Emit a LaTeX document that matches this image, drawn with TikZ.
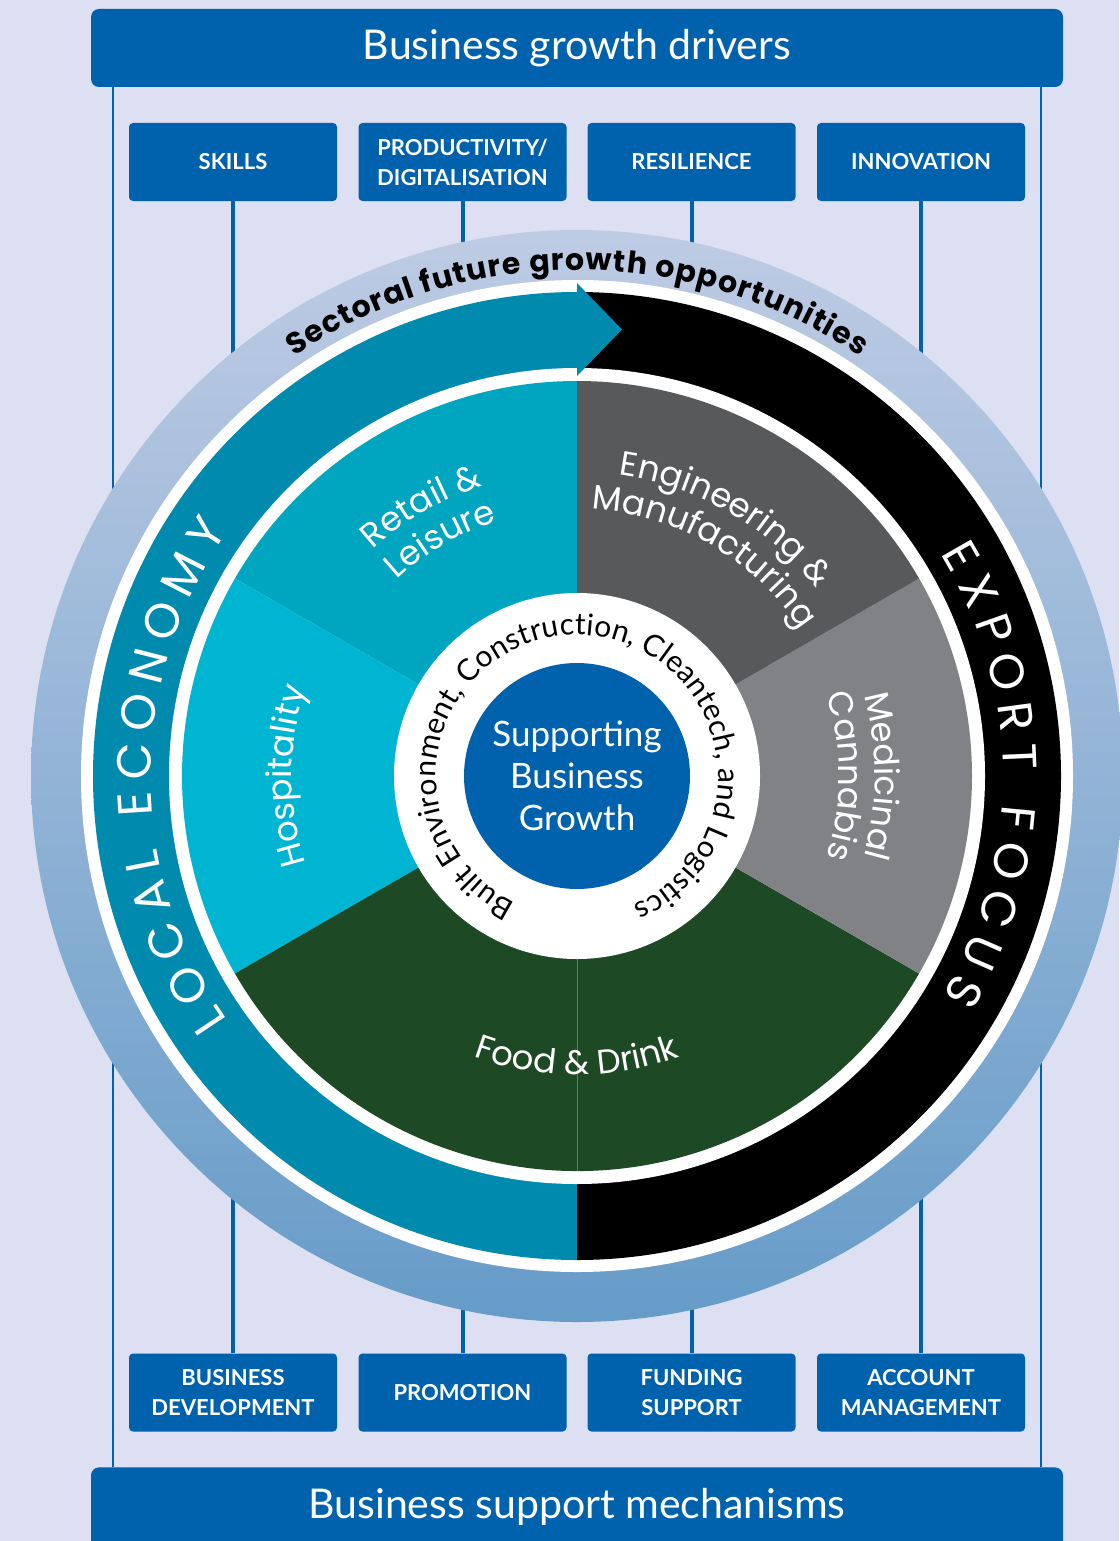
\documentclass[tikz,border=0pt]{standalone}
\usepackage{fontspec}
\usetikzlibrary{decorations.text}
\newfontfamily\popfont{Poppins}
\newfontfamily\latofont{Lato}
\definecolor{bgc}{RGB}{220,224,242}
\definecolor{dblue}{RGB}{0,98,172}
\definecolor{bandteal}{RGB}{0,138,174}
\definecolor{retailc}{RGB}{0,165,191}
\definecolor{hospc}{RGB}{0,181,209}
\definecolor{foodc}{RGB}{29,74,36}
\definecolor{medc}{RGB}{129,130,134}
\definecolor{engc}{RGB}{88,89,91}
\definecolor{ringtop}{RGB}{190,203,228}
\definecolor{ringmid}{RGB}{158,178,214}
\definecolor{ringbot}{RGB}{102,156,200}
\definecolor{fooddiv}{RGB}{95,125,100}
\newcommand{\secfont}{\popfont\fontsize{17}{20}\selectfont}
\newcommand{\bandfont}{\popfont\fontsize{24}{28}\selectfont}
\newcommand{\sectoralfont}{\popfont\bfseries\fontsize{15}{18}\selectfont}
\newcommand{\innerringfont}{\latofont\fontsize{15}{18}\selectfont}
\begin{document}
\begin{tikzpicture}[x=0.5pt,y=0.5pt,
  hdrbox/.style={fill=dblue, rounded corners=4pt, minimum width=486pt, minimum height=39pt, inner sep=0pt},
  hdrtext/.style={text=white, font=\latofont\fontsize{20.5}{24}\selectfont, inner sep=0pt},
  drvbox/.style={fill=dblue, rounded corners=2pt, minimum width=104pt, minimum height=39pt, inner sep=0pt, text=white, align=center, font=\latofont\bfseries\fontsize{11}{15}\selectfont},
  conn/.style={draw=dblue, line width=2pt},
  thinconn/.style={draw=dblue, line width=1pt},
  curved/.style={decorate, decoration={text along path, text align=center, text color=white, text={#1}}},
  fitted/.style={decorate, decoration={text along path, text align={fit to path}, text color=white, text={#1}}},
]
\useasboundingbox (0,0) rectangle (1119,-1541);
\fill[bgc] (0,0) rectangle (1119,-1541);

% headers
\node[hdrbox, hdrtext] (hdr) at (577,-48) {Business growth drivers};
\node[hdrbox, anchor=north, minimum height=50pt] (bsm) at (577,-1467) {};
\node[hdrtext] (bsmt) at (577,-1507) {Business support mechanisms};

% driver boxes
\node[drvbox] (d1) at (233,-162) {SKILLS};
\node[drvbox] (d2) at (462.5,-162) {PRODUCTIVITY/\\DIGITALISATION};
\node[drvbox] (d3) at (691.5,-162) {RESILIENCE};
\node[drvbox] (d4) at (921,-162) {INNOVATION};
% mechanism boxes
\node[drvbox] (m1) at (233,-1392.5) {BUSINESS\\DEVELOPMENT};
\node[drvbox] (m2) at (462.5,-1392.5) {PROMOTION};
\node[drvbox] (m3) at (691.5,-1392.5) {FUNDING\\SUPPORT};
\node[drvbox] (m4) at (921,-1392.5) {ACCOUNT\\MANAGEMENT};

% connectors
\draw[conn] (d1) -- (m1);
\draw[conn] (d2) -- (m2);
\draw[conn] (d3) -- (m3);
\draw[conn] (d4) -- (m4);
\coordinate (lx) at (113,0);
\coordinate (rx) at (1041,0);
\draw[thinconn] (hdr.south -| lx) -- (bsm.north -| lx);
\draw[thinconn] (hdr.south -| rx) -- (bsm.north -| rx);

% wheel
\begin{scope}[shift={(577,-776)}]
  \shade[top color=ringtop, middle color=ringmid, bottom color=ringbot] (0,0) circle (546);
  \fill[white] (0,0) circle (496);
  \fill[bandteal] (0,0) -- (90:484) arc (90:270:484) -- cycle;
  \fill[black] (0,0) -- (90:484) arc (90:-90:484) -- cycle;
  \fill[white] (0,0) circle (408);
  % sectors
  \fill[retailc] (0,0) -- (90:395) arc (90:150:395) -- cycle;
  \fill[hospc] (0,0) -- (150:395) arc (150:210:395) -- cycle;
  \fill[foodc] (0,0) -- (210:395) arc (210:330:395) -- cycle;
  \fill[medc] (0,0) -- (330:395) arc (330:390:395) -- cycle;
  \fill[engc] (0,0) -- (30:395) arc (30:90:395) -- cycle;
  \draw[fooddiv, line width=0.4pt] (0,0) -- (270:395);
  % arrow head
  \fill[bandteal] (0,493) -- (45,446.5) -- (0,400) -- cycle;
  % centre
  \fill[white] (0,0) circle (183);
  \fill[dblue] (0,0) circle (113);

  % curved texts
  \path[decorate, decoration={text along path, text align={fit to path}, text color=black, text={|\sectoralfont|Sectoral future growth opportunities}}] (124:506) arc (124:56:506);
  \path[fitted={|\bandfont|LOCAL ECONOMY}] (215:426) arc (215:145:426);
  \path[fitted={|\bandfont|EXPORT FOCUS}] (31.5:426) arc (31.5:-31:426);
  \path[curved={|\secfont|Retail {\&}}] (160:305) arc (160:80:305);
  \path[curved={|\secfont|Leisure}] (160:267) arc (160:80:267);
  \path[curved={|\secfont|Engineering {\&}}] (105:304) arc (105:15:304);
  \path[curved={|\secfont|Manufacturing}] (105:267) arc (105:15:267);
  \path[curved={|\secfont|Medicinal}] (40:298) arc (40:-40:298);
  \path[curved={|\secfont|Cannabis}] (40:262) arc (40:-40:262);
  \path[curved={|\secfont|Hospitality}] (220:285) arc (220:140:285);
  \path[curved={|\secfont|Food {\&} Drink}] (230:299) arc (230:310:299);
  \path[decorate, decoration={text along path, text align={fit to path}, text color=black, text={|\innerringfont|Built Environment, Construction, Cleantech, and Logistics}}] (244:141) arc (244:-66.5:141);
  \node[text=white, align=center, font=\latofont\fontsize{17.5}{21}\selectfont, inner sep=0pt] (sbg) at (0,0) {Supporting\\Business\\Growth};
\end{scope}
\end{tikzpicture}
\end{document}
